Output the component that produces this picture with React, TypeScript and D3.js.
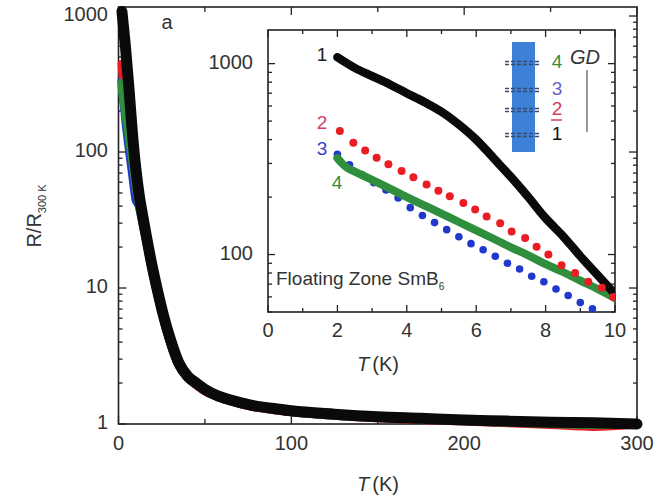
import React from "react";
import * as d3 from "d3";

const W = 662;
const H = 498;

// ---- Inset data (T in K, R/R300K) ----
const inBlackT = [2, 2.5, 3, 3.5, 4, 4.5, 5, 5.5, 6, 6.5, 7, 7.5, 8, 8.5, 9, 9.5, 10];
const inBlackR = [1080, 950, 860, 780, 700, 630, 560, 480, 400, 320, 255, 200, 155, 125, 98, 78, 62];

const inRedT = [2.07, 2.46, 2.8, 3.13, 3.47, 3.85, 4.19, 4.57, 4.91, 5.24, 5.63, 5.97, 6.3, 6.69, 7.02, 7.41, 7.74, 8.08, 8.46, 8.85, 9.23, 9.62, 9.95];
const inRedR = [444, 385, 351, 321, 297, 274, 254, 233, 216, 202, 186, 172, 158, 146, 132, 122, 110, 100, 88, 80, 72, 67, 60];

const inBlueT = [2.0, 2.35, 2.7, 3.05, 3.4, 3.75, 4.1, 4.45, 4.8, 5.15, 5.5, 5.85, 6.2, 6.55, 6.9, 7.25, 7.6, 7.95, 8.3, 8.65, 9.0, 9.35, 9.7, 10.0];
const inBlueR = [335, 295, 262, 238, 218, 198, 176, 160, 147, 135, 124, 114, 106, 98, 90, 84, 77, 72, 66, 61, 56, 52, 48, 45];

const inGreenT = [2.0, 2.15, 2.3, 2.5, 3.0, 3.5, 4.0, 4.5, 5.0, 5.5, 6.0, 6.5, 7.0, 7.5, 8.0, 8.5, 9.0, 9.5, 10.0];
const inGreenR = [320, 298, 283, 272, 246, 222, 200, 181, 164, 148, 134, 121, 109, 99, 89, 81, 73, 66, 59];

// ---- Main panel: full temperature range ----
const mainT = [2, 4, 6, 8, 10, 12, 14, 16, 19, 22, 26, 30, 35, 40, 45, 50, 57, 65, 76, 90, 100, 125, 150, 175, 200, 225, 250, 275, 300];
const mainBlack = [1080, 600, 300, 140, 76, 48, 34, 24.5, 15.5, 10.3, 6.3, 4.2, 2.8, 2.25, 2.0, 1.8, 1.62, 1.5, 1.38, 1.3, 1.25, 1.18, 1.13, 1.1, 1.07, 1.05, 1.03, 1.02, 1.0];

// colored samples above 10 K (they sit under the black band)
const tailT = [12, 14, 16, 19, 22, 26, 30, 35, 40, 45, 50, 57, 65, 76, 90, 100, 125, 150, 175, 200, 225, 250, 275, 300];
const tailRed = [44, 32, 23.5, 15, 10, 6.1, 4.0, 2.7, 2.2, 1.95, 1.75, 1.6, 1.48, 1.36, 1.27, 1.23, 1.16, 1.11, 1.08, 1.05, 1.02, 0.99, 0.96, 1.0];
const tailBlue = [40, 30, 23, 14.5, 9.8, 6.0, 4.0, 2.7, 2.2, 1.95, 1.76, 1.6, 1.48, 1.36, 1.28, 1.23, 1.16, 1.12, 1.09, 1.06, 1.03, 1.01, 0.99, 1.0];
const tailGreen = [42, 31, 23.5, 14.8, 10, 6.1, 4.0, 2.7, 2.2, 1.96, 1.77, 1.6, 1.48, 1.37, 1.28, 1.23, 1.16, 1.12, 1.09, 1.06, 1.03, 1.01, 0.99, 1.0];

const mainXTicks = [0, 100, 200, 300];
const mainYTicks = [1, 10, 100, 1000];
const insetXTicks = [0, 2, 4, 6, 8, 10];
const insetYTicks = [100, 1000];

const legendIds = ["4", "3", "2", "1"];

const C_BLACK = "#0a0a0a";
const C_RED = "#ea1d25";
const C_BLUE = "#2138cf";
const C_GREEN = "#2f8f3c";

const FONT = "'Liberation Sans', Arial, Helvetica, sans-serif";
const TXT = "#333";

type Pt = [number, number];
const zip = (xs: number[], ys: number[]): Pt[] => xs.map((x, i) => [x, ys[i]]);

export default function App() {
  // main axes
  const x = d3.scaleLinear().domain([0, 300]).range([118.5, 637]);
  const y = d3.scaleLog().domain([1, 1165]).range([424, 7]);
  // inset axes
  const xi = d3.scaleLinear().domain([0, 10]).range([268, 615]);
  const yi = d3.scaleLog().domain([50, 1500]).range([312, 30]);

  const lineMain = d3
    .line<Pt>()
    .x((d) => x(d[0]))
    .y((d) => y(d[1]))
    .curve(d3.curveMonotoneX);
  const lineIn = d3
    .line<Pt>()
    .x((d) => xi(d[0]))
    .y((d) => yi(d[1]))
    .curve(d3.curveMonotoneX);

  const mRed = zip(inRedT, inRedR).concat(zip(tailT, tailRed));
  const mBlue = zip(inBlueT, inBlueR).concat(zip(tailT, tailBlue));
  const mGreen = zip(inGreenT, inGreenR).concat(zip(tailT, tailGreen));
  const mBlack = zip(mainT, mainBlack);

  const [mx0, mx1] = x.range();
  const [my0, my1] = y.range();
  const [ix0, ix1] = xi.range();
  const [iy0, iy1] = yi.range();

  const isDecade = (v: number) => Math.abs(Math.log10(v) - Math.round(Math.log10(v))) < 1e-9;
  const mainYAll = y.ticks();
  const insetYAll = yi.ticks();
  const mainXAll = x.ticks(6);
  const insetXAll = xi.ticks(10);

  // legend rows inside the inset
  const legendY = [63, 90, 110, 135];
  const legendColors = [C_GREEN, "#6b5fc4", "#d4405e", "#111"];

  return (
    <svg
      width={W}
      height={H}
      viewBox={`0 0 ${W} ${H}`}
      style={{ position: "absolute", left: 0, top: 0, background: "#fff" }}
    >
      <rect x={0} y={0} width={W} height={H} fill="#fff" />

      {/* main frame */}
      <rect x={mx0} y={my1} width={mx1 - mx0} height={my0 - my1} fill="none" stroke="#222" strokeWidth={1.6} />

      {/* main x ticks (bottom + top, inward) */}
      {mainXAll.map((t) => {
        const L = t % 100 === 0 ? 8 : 5;
        return (
          <g key={"mx" + t} stroke="#222" strokeWidth={1.3}>
            <line x1={x(t)} x2={x(t)} y1={my0} y2={my0 - L} />
            <line x1={x(t)} x2={x(t)} y1={my1} y2={my1 + L} />
          </g>
        );
      })}
      {/* main y ticks (left + right, inward) */}
      {mainYAll.map((t) => {
        const L = isDecade(t) ? 8 : 4;
        return (
          <g key={"my" + t} stroke="#222" strokeWidth={1.3}>
            <line x1={mx0} x2={mx0 + L} y1={y(t)} y2={y(t)} />
            <line x1={mx1} x2={mx1 - L} y1={y(t)} y2={y(t)} />
          </g>
        );
      })}
      {mainXTicks.map((t) => (
        <text key={"mxl" + t} x={x(t)} y={445} textAnchor="middle" dominantBaseline="middle" fontFamily={FONT} fontSize={20} fill={TXT}>
          {t}
        </text>
      ))}
      {mainYTicks.map((t) => (
        <text key={"myl" + t} x={108} y={y(t)} textAnchor="end" dominantBaseline="middle" fontFamily={FONT} fontSize={20} fill={TXT}>
          {t}
        </text>
      ))}

      {/* main curves */}
      <path d={lineMain(mBlue) || ""} fill="none" stroke={C_BLUE} strokeWidth={9} strokeLinecap="round" strokeLinejoin="round" />
      <path d={lineMain(mRed) || ""} fill="none" stroke={C_RED} strokeWidth={9} strokeLinecap="round" strokeLinejoin="round" />
      <path d={lineMain(mGreen) || ""} fill="none" stroke={C_GREEN} strokeWidth={9} strokeLinecap="round" strokeLinejoin="round" />
      <path d={lineMain(mBlack) || ""} fill="none" stroke={C_BLACK} strokeWidth={11} strokeLinecap="round" strokeLinejoin="round" />

      {/* axis titles */}
      <text x={378} y={486} textAnchor="middle" dominantBaseline="middle" fontFamily={FONT} fontSize={20} fill={TXT}>
        <tspan fontStyle="italic">T</tspan>
        <tspan dx={3}>(K)</tspan>
      </text>
      <text transform="translate(41,216) rotate(-90)" textAnchor="middle" fontFamily={FONT} fontSize={20} fill={TXT}>
        R/R
        <tspan fontSize={11} dy={5}>300 K</tspan>
      </text>
      <text x={167} y={24} textAnchor="middle" dominantBaseline="middle" fontFamily={FONT} fontSize={20} fill={TXT}>
        a
      </text>

      {/* ---- inset ---- */}
      <defs>
        <clipPath id="insetClip">
          <rect x={ix0} y={iy1} width={ix1 - ix0} height={iy0 - iy1} />
        </clipPath>
      </defs>
      <rect x={ix0} y={iy1} width={ix1 - ix0} height={iy0 - iy1} fill="#fff" stroke="#222" strokeWidth={1.6} />
      {insetXAll.map((t) => {
        const L = t % 2 === 0 ? 7 : 4;
        return (
          <g key={"ix" + t} stroke="#222" strokeWidth={1.3}>
            <line x1={xi(t)} x2={xi(t)} y1={iy0} y2={iy0 - L} />
            <line x1={xi(t)} x2={xi(t)} y1={iy1} y2={iy1 + L} />
          </g>
        );
      })}
      {insetYAll.map((t) => {
        const L = isDecade(t) ? 7 : 4;
        return (
          <g key={"iy" + t} stroke="#222" strokeWidth={1.3}>
            <line x1={ix0} x2={ix0 + L} y1={yi(t)} y2={yi(t)} />
            <line x1={ix1} x2={ix1 - L} y1={yi(t)} y2={yi(t)} />
          </g>
        );
      })}
      {insetXTicks.map((t) => (
        <text key={"ixl" + t} x={xi(t)} y={332} textAnchor="middle" dominantBaseline="middle" fontFamily={FONT} fontSize={20} fill={TXT}>
          {t}
        </text>
      ))}
      {insetYTicks.map((t) => (
        <text key={"iyl" + t} x={253} y={yi(t)} textAnchor="end" dominantBaseline="middle" fontFamily={FONT} fontSize={20} fill={TXT}>
          {t}
        </text>
      ))}
      <text x={378} y={366} textAnchor="middle" dominantBaseline="middle" fontFamily={FONT} fontSize={20} fill={TXT}>
        <tspan fontStyle="italic">T</tspan>
        <tspan dx={3}>(K)</tspan>
      </text>

      <g clipPath="url(#insetClip)">
        {zip(inBlueT, inBlueR).map((d, i) => (
          <circle key={"b" + i} cx={xi(d[0])} cy={yi(d[1])} r={3.8} fill={C_BLUE} />
        ))}
        <path d={lineIn(zip(inGreenT, inGreenR)) || ""} fill="none" stroke={C_GREEN} strokeWidth={8} strokeLinecap="round" strokeLinejoin="round" />
        <path d={lineIn(zip(inBlackT, inBlackR)) || ""} fill="none" stroke={C_BLACK} strokeWidth={8.5} strokeLinecap="round" strokeLinejoin="round" />
        {zip(inRedT, inRedR).map((d, i) => (
          <circle key={"r" + i} cx={xi(d[0])} cy={yi(d[1])} r={4} fill={C_RED} />
        ))}
      </g>

      {/* curve labels */}
      <text x={322} y={56} textAnchor="middle" dominantBaseline="middle" fontFamily={FONT} fontSize={19} fill="#222">1</text>
      <text x={322} y={124} textAnchor="middle" dominantBaseline="middle" fontFamily={FONT} fontSize={19} fill="#d4405e">2</text>
      <text x={322} y={150} textAnchor="middle" dominantBaseline="middle" fontFamily={FONT} fontSize={19} fill="#3a3ad0">3</text>
      <text x={337} y={184} textAnchor="middle" dominantBaseline="middle" fontFamily={FONT} fontSize={19} fill={C_GREEN}>4</text>

      <text x={276} y={280} dominantBaseline="middle" fontFamily={FONT} fontSize={19} fill={TXT}>
        Floating Zone SmB
        <tspan fontSize={10} dy={7}>6</tspan>
      </text>

      {/* growth-direction legend */}
      <rect x={512} y={42} width={23} height={110} fill="#3d80d8" />
      {legendIds.map((id, i) => (
        <g key={"lg" + id}>
          <line x1={505} x2={541} y1={legendY[i] - 1.5} y2={legendY[i] - 1.5} stroke="#3a4a6a" strokeWidth={1.6} strokeDasharray="4,2" />
          <line x1={505} x2={541} y1={legendY[i] + 1.5} y2={legendY[i] + 1.5} stroke="#3a4a6a" strokeWidth={1.6} strokeDasharray="4,2" />
          <text x={557} y={legendY[i]} textAnchor="middle" dominantBaseline="middle" fontFamily={FONT} fontSize={19} fill={legendColors[i]}>
            {id}
          </text>
        </g>
      ))}
      <line x1={551} x2={562} y1={120} y2={120} stroke="#d4405e" strokeWidth={1.5} />
      <text x={570} y={59} dominantBaseline="middle" fontFamily={FONT} fontSize={20} fontStyle="italic" fill={TXT}>
        GD
      </text>
      <line x1={587} x2={587} y1={70} y2={132} stroke="#555" strokeWidth={1.2} />
    </svg>
  );
}
